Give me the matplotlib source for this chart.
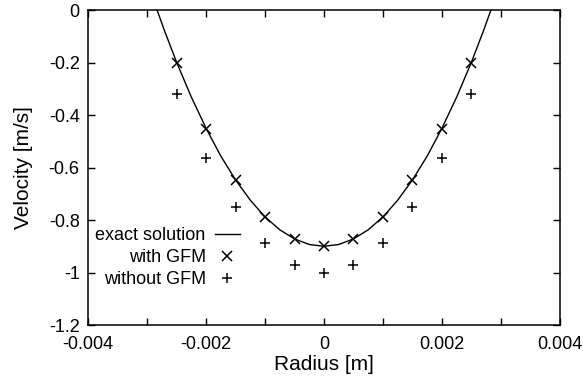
import matplotlib
matplotlib.use("Agg")
import matplotlib.pyplot as plt
from matplotlib.ticker import FuncFormatter, MultipleLocator

plt.rcParams['font.family'] = ['Liberation Sans', 'DejaVu Sans']

# exact solution
exact_r = [-0.00283, -0.0027, -0.0025, -0.00225, -0.002, -0.00175, -0.0015, -0.00125,
           -0.001, -0.00075, -0.0005, -0.00025, 0.0, 0.00025, 0.0005, 0.00075, 0.001,
           0.00125, 0.0015, 0.00175, 0.002, 0.00225, 0.0025, 0.0027, 0.00283]
exact_v = [0.0, -0.081, -0.198, -0.331, -0.450, -0.556, -0.647, -0.724,
           -0.788, -0.837, -0.872, -0.893, -0.900, -0.893, -0.872, -0.837, -0.788,
           -0.724, -0.647, -0.556, -0.450, -0.331, -0.198, -0.081, 0.0]

# sample points
radius = [-0.0025, -0.002, -0.0015, -0.001, -0.0005, 0.0, 0.0005, 0.001, 0.0015, 0.002, 0.0025]
with_gfm = [-0.20, -0.453, -0.648, -0.79, -0.874, -0.90, -0.874, -0.79, -0.648, -0.453, -0.20]
without_gfm = [-0.321, -0.563, -0.749, -0.886, -0.973, -1.0, -0.973, -0.886, -0.749, -0.563, -0.321]

fig = plt.figure(figsize=(5.83, 3.78), dpi=100)
ax = fig.add_axes([0.151, 0.140, 0.8095, 0.8335])

ax.plot(exact_r, exact_v, color='black', lw=1.0, label='exact solution')
ax.plot(radius, with_gfm, ls='none', marker='x', ms=7, mew=1.1, color='black', label='with GFM')
ax.plot(radius, without_gfm, ls='none', marker='+', ms=7, mew=1.1, color='black', label='without GFM')

ax.set_xlim(-0.004, 0.004)
ax.set_ylim(-1.2, 0)
ax.xaxis.set_major_locator(MultipleLocator(0.002))
ax.xaxis.set_minor_locator(MultipleLocator(0.001))
ax.yaxis.set_major_locator(MultipleLocator(0.2))
fmt = FuncFormatter(lambda v, p: '%g' % round(v, 6))
ax.xaxis.set_major_formatter(fmt)
ax.yaxis.set_major_formatter(fmt)

ax.tick_params(which='both', direction='in', top=True, right=True, length=5, width=1.0,
               labelsize=13, colors='black')
ax.tick_params(axis='x', pad=8)
ax.tick_params(axis='y', pad=6)
for s in ax.spines.values():
    s.set_linewidth(1.1)

ax.set_xlabel('Radius [m]', fontsize=15, labelpad=1)
ax.set_ylabel('Velocity [m/s]', fontsize=15, labelpad=11)

ax.legend(loc='upper right', bbox_to_anchor=(0.322, 0.311), frameon=False, markerfirst=False,
          fontsize=13, handlelength=1.4, handletextpad=0.5, borderpad=0, labelspacing=0.28,
          borderaxespad=0)

fig.savefig('out.png', dpi=100)
